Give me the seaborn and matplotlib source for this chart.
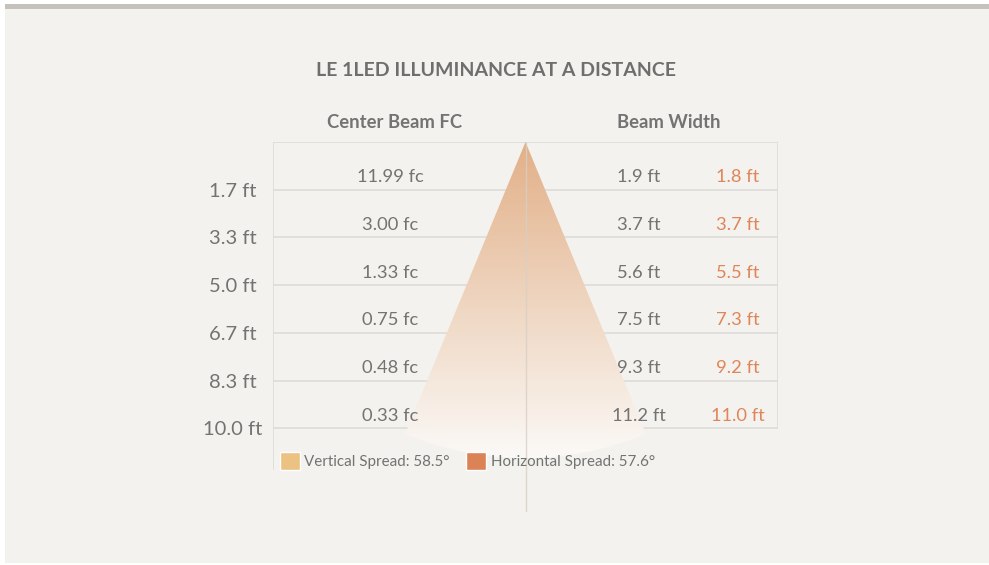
import matplotlib.pyplot as plt
import numpy as np
import seaborn as sns
from matplotlib.patches import Patch, Polygon, Rectangle

# data
distances = [1.7, 3.3, 5.0, 6.7, 8.3, 10.0]
center_fc = [11.99, 3.00, 1.33, 0.75, 0.48, 0.33]
vert_width = [1.9, 3.7, 5.6, 7.5, 9.3, 11.2]
horiz_width = [1.8, 3.7, 5.5, 7.3, 9.2, 11.0]
vert_spread = 58.5
horiz_spread = 57.6

TITLE = 'LE 1LED ILLUMINANCE AT A DISTANCE'

BG = '#f3f2ee'
GRID = '#dedcd9'
TEXT = '#737373'
ORANGE = '#e0855a'
VERT_C = '#ecc283'
HORIZ_C = '#dc8257'
CONE_TOP = np.array([0.886, 0.690, 0.533])
CONE_BOT = np.array([0.984, 0.978, 0.968])

sns.set_theme(style='white')
plt.rcParams['font.family'] = ['Lato', 'DejaVu Sans']

W, H = 989, 565
fig = plt.figure(figsize=(W / 100, H / 100), dpi=100)
fig.patch.set_facecolor('white')
fig.patches.append(Rectangle((5 / W, 2 / H), 984 / W, 559 / H, transform=fig.transFigure,
                             facecolor=BG, edgecolor='none', zorder=-2))
fig.patches.append(Rectangle((5 / W, (H - 8.5) / H), 984 / W, 4.5 / H, transform=fig.transFigure,
                             facecolor='#c5c1bc', edgecolor='none', zorder=-1))

# axes: x in pixels across the table, y in rows
ax_w, ax_h, row_px = 505, 370, 47.7
ax = fig.add_axes([273 / W, (H - 512) / H, ax_w / W, ax_h / H])
ax.set_facecolor('none')
for s in ax.spines.values():
    s.set_visible(False)

n = len(distances)
rows = np.arange(1, n + 1)
y_max = ax_h / row_px
cx = ax_w / 2

# table lines
ax.hlines([0, *rows], 0, ax_w, color=GRID, lw=1.2, zorder=1)
ax.vlines(0, 0, (470 - 142) / row_px, color=GRID, lw=1.2, zorder=1)
ax.vlines(ax_w, 0, n, color=GRID, lw=1.2, zorder=1)

# light cone with an arc bottom, gradient filled
half = np.radians(22.4)
radius = 316
th = np.linspace(-half, half, 60)
arc_x = cx + radius * np.sin(th)
arc_y = radius * np.cos(th) / row_px
cone = Polygon(np.column_stack([np.r_[cx, arc_x], np.r_[0, arc_y]]),
               closed=True, facecolor='none', edgecolor='none')
ax.add_patch(cone)
t = np.linspace(0, 1, 256)[:, None]
grad = CONE_TOP * (1 - t) + CONE_BOT * t
grad = np.repeat(grad[:, None, :], 2, axis=1)
img = ax.imshow(grad, extent=(cx - radius, cx + radius, radius / row_px, 0),
                aspect='auto', zorder=2, interpolation='bilinear')
img.set_clip_path(cone)

ax.vlines(cx, 0, y_max, color='#d9cfc6', lw=1.0, alpha=0.8, zorder=3)

# values
for r, fc, vw, hw in zip(rows, center_fc, vert_width, horiz_width):
    yy = r - 0.26
    ax.text(117, yy, f'{fc:.2f} fc', ha='center', va='center', fontsize=13.2, color=TEXT, zorder=4)
    ax.text(366, yy, f'{vw:.1f} ft', ha='center', va='center', fontsize=13.2, color=TEXT, zorder=4)
    ax.text(465, yy, f'{hw:.1f} ft', ha='center', va='center', fontsize=13.2, color=ORANGE, zorder=4)

ax.text(122, -0.4, 'Center Beam FC', ha='center', va='center', fontsize=13.3,
        fontweight='bold', color=TEXT)
ax.text(396, -0.4, 'Beam Width', ha='center', va='center', fontsize=13.3,
        fontweight='bold', color=TEXT)

ax.set_yticks(rows)
ax.set_yticklabels([f'{d:.1f} ft' for d in distances])
ax.tick_params(axis='y', length=0, pad=28.8, labelsize=14.5, labelcolor=TEXT)
for lab in ax.get_yticklabels():
    lab.set_ha('center')
ax.set_xticks([])
ax.set_xlim(0, ax_w)
ax.set_ylim(y_max, 0)

handles = [Patch(facecolor=VERT_C, label=f'Vertical Spread: {vert_spread}°'),
           Patch(facecolor=HORIZ_C, label=f'Horizontal Spread: {horiz_spread}°')]
ax.legend(handles=handles, loc='center left', bbox_to_anchor=(7, (461 - 142) / row_px),
          bbox_transform=ax.transData, ncol=2, frameon=False, fontsize=10.9,
          handlelength=1.3, handleheight=1.45, handletextpad=0.3, columnspacing=1.1,
          borderpad=0, borderaxespad=0, labelcolor=TEXT)

fig.text(496 / W, 1 - 71 / H, TITLE, ha='center', va='center', fontsize=14,
         fontweight='bold', color='#6e6e6e')

fig.savefig('out.png', dpi=100)
